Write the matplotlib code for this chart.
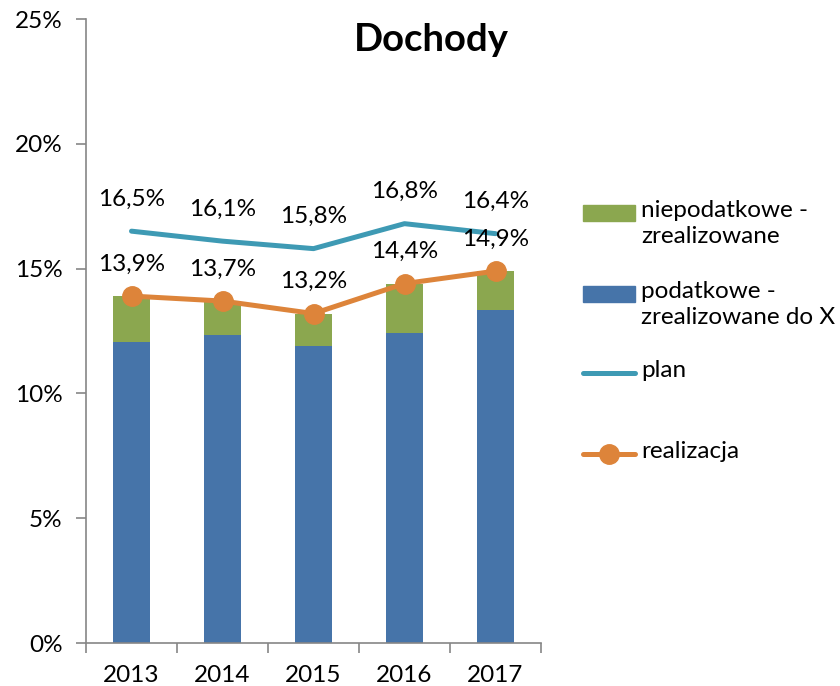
import numpy as np
import matplotlib
matplotlib.use("Agg")
import matplotlib.pyplot as plt
from matplotlib.patches import Rectangle
from matplotlib.lines import Line2D

plt.rcParams['font.family'] = ['Lato', 'DejaVu Sans']

# Data (percent)
years = ['2013', '2014', '2015', '2016', '2017']
podatkowe = [12.07, 12.35, 11.90, 12.40, 13.35]
realizacja = [13.9, 13.7, 13.2, 14.4, 14.9]
plan = [16.5, 16.1, 15.8, 16.8, 16.4]
niepodatkowe = [r - p for r, p in zip(realizacja, podatkowe)]

c_blue = '#4674A9'
c_green = '#8BA74F'
c_teal = '#3E9AB4'
c_orange = '#DD843A'
c_axis = '#868686'
fs = 17.5

fig = plt.figure(figsize=(8.4, 6.86), dpi=100)
ax = fig.add_axes([86 / 840, 1 - 643 / 686, 455 / 840, 624 / 686])

x = np.arange(len(years))
ax.bar(x, podatkowe, width=0.4, color=c_blue, zorder=2)
ax.bar(x, niepodatkowe, width=0.4, bottom=podatkowe, color=c_green, zorder=2)
ax.plot(x, plan, color=c_teal, lw=3.6, solid_capstyle='round', zorder=3)
ax.plot(x, realizacja, color=c_orange, lw=3.6, marker='o', markersize=14,
        solid_capstyle='round', zorder=4)

# value labels above points
for xi, v in zip(x, plan):
    ax.annotate(f'{v:.1f}%'.replace('.', ','), (xi, v), xytext=(0, 23),
                textcoords='offset points', ha='center', va='center', fontsize=fs)
for xi, v in zip(x, realizacja):
    ax.annotate(f'{v:.1f}%'.replace('.', ','), (xi, v), xytext=(0, 23),
                textcoords='offset points', ha='center', va='center', fontsize=fs)

ax.set_xlim(-0.5, len(years) - 0.5)
ax.set_ylim(0, 25)
ax.set_yticks(np.arange(0, 26, 5))
ax.set_yticklabels([f'{t}%' for t in range(0, 26, 5)])
ax.set_xticks(x)
ax.set_xticklabels(years)
ax.set_xticks(np.arange(-0.5, len(years)), minor=True)
ax.tick_params(axis='x', which='major', length=0, pad=16, labelsize=fs)
ax.tick_params(axis='x', which='minor', length=7, width=1.2, color=c_axis)
ax.tick_params(axis='y', length=7, width=1.2, color=c_axis, labelsize=fs, pad=10)
for s in ['top', 'right']:
    ax.spines[s].set_visible(False)
for s in ['left', 'bottom']:
    ax.spines[s].set_color(c_axis)
    ax.spines[s].set_linewidth(1.2)

fig.text(431 / 840, 1 - 40 / 686, 'Dochody', ha='center', va='center',
         fontsize=27.5, fontweight='bold')

# legend drawn in figure pixels
W, H = 840, 686
entries = [
    ('patch', c_green, 'niepodatkowe -\nzrealizowane', 213),
    ('patch', c_blue, 'podatkowe -\nzrealizowane do X', 294),
    ('line', c_teal, 'plan', 373),
    ('marker', c_orange, 'realizacja', 454),
]
for kind, col, label, yc in entries:
    yf = 1 - yc / H
    if kind == 'patch':
        fig.add_artist(Rectangle((583 / W, yf - 8 / H), 52 / W, 16 / H,
                                 transform=fig.transFigure, color=col))
    else:
        fig.add_artist(Line2D([583 / W, 635 / W], [yf, yf], transform=fig.transFigure,
                              color=col, lw=3.6, solid_capstyle='round'))
        if kind == 'marker':
            fig.add_artist(Line2D([609 / W], [yf], transform=fig.transFigure,
                                  color=col, marker='o', markersize=14))
    fig.text(641 / W, yf + 13 / H, label, ha='left', va='top', fontsize=fs,
             linespacing=1.3)

fig.savefig('out.png', dpi=100)
